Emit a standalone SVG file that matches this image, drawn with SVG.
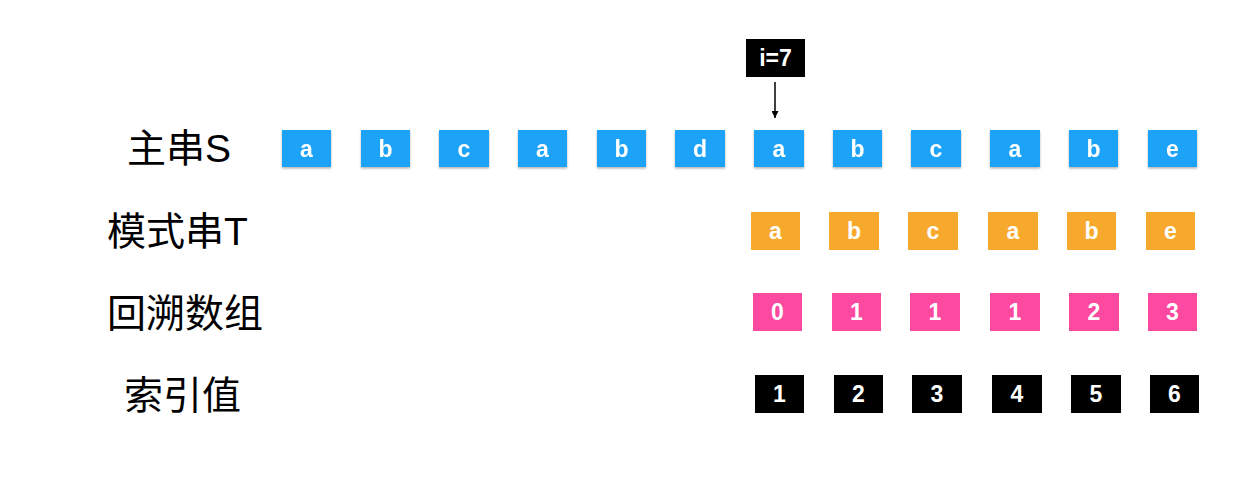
<svg xmlns="http://www.w3.org/2000/svg" width="1238" height="494" viewBox="0 0 1238 494">
<style>
.lbl{font-family:"Liberation Sans","Noto Sans CJK SC",sans-serif;font-size:39px;fill:#000}
.bt{font-family:"Liberation Sans",Arial,sans-serif;font-weight:bold;font-size:23px;fill:#fff;text-anchor:middle}
.blue{fill:#1FA3F7}
.orange{fill:#F7A92E}
.pink{fill:#FD4AA0}
.black{fill:#000}
</style>
<defs>
<filter id="sh" x="-20%" y="-20%" width="140%" height="150%">
<feDropShadow dx="0" dy="1.5" stdDeviation="1.2" flood-color="#000" flood-opacity="0.3"/>
</filter>
<marker id="ah" viewBox="0 0 10 10" refX="10" refY="5" markerWidth="7" markerHeight="7" markerUnits="userSpaceOnUse" orient="auto">
<path d="M0,0 L10,5 L0,10 z" fill="#000"/>
</marker>
</defs>
<rect width="1238" height="494" fill="#fff"/>
<g id="labels">
<text class="lbl" x="127" y="162">主串S</text>
<text class="lbl" x="107" y="245">模式串T</text>
<text class="lbl" x="107" y="327">回溯数组</text>
<text class="lbl" x="124" y="409">索引值</text>
</g>
<g id="mainS" filter="url(#sh)">
<g id="s1"><rect class="blue" x="282" y="130" width="49" height="37"/><text class="bt" x="306.5" y="156.5">a</text></g>
<g id="s2"><rect class="blue" x="361" y="130" width="49" height="37"/><text class="bt" x="385.5" y="156.5">b</text></g>
<g id="s3"><rect class="blue" x="439" y="130" width="50" height="37"/><text class="bt" x="464" y="156.5">c</text></g>
<g id="s4"><rect class="blue" x="518" y="130" width="49" height="37"/><text class="bt" x="542.5" y="156.5">a</text></g>
<g id="s5"><rect class="blue" x="597" y="130" width="49" height="37"/><text class="bt" x="621.5" y="156.5">b</text></g>
<g id="s6"><rect class="blue" x="675" y="130" width="50" height="37"/><text class="bt" x="700" y="156.5">d</text></g>
<g id="s7"><rect class="blue" x="754" y="130" width="50" height="37"/><text class="bt" x="779" y="156.5">a</text></g>
<g id="s8"><rect class="blue" x="833" y="130" width="49" height="37"/><text class="bt" x="857.5" y="156.5">b</text></g>
<g id="s9"><rect class="blue" x="911" y="130" width="50" height="37"/><text class="bt" x="936" y="156.5">c</text></g>
<g id="s10"><rect class="blue" x="990" y="130" width="50" height="37"/><text class="bt" x="1015" y="156.5">a</text></g>
<g id="s11"><rect class="blue" x="1069" y="130" width="49" height="37"/><text class="bt" x="1093.5" y="156.5">b</text></g>
<g id="s12"><rect class="blue" x="1148" y="130" width="49" height="37"/><text class="bt" x="1172.5" y="156.5">e</text></g>
</g>
<g id="patternT">
<g id="t1"><rect class="orange" x="751" y="212" width="49" height="38"/><text class="bt" x="775.5" y="239">a</text></g>
<g id="t2"><rect class="orange" x="829" y="212" width="50" height="38"/><text class="bt" x="854" y="239">b</text></g>
<g id="t3"><rect class="orange" x="908" y="212" width="50" height="38"/><text class="bt" x="933" y="239">c</text></g>
<g id="t4"><rect class="orange" x="988" y="212" width="50" height="38"/><text class="bt" x="1013" y="239">a</text></g>
<g id="t5"><rect class="orange" x="1067" y="212" width="49" height="38"/><text class="bt" x="1091.5" y="239">b</text></g>
<g id="t6"><rect class="orange" x="1146" y="212" width="49" height="38"/><text class="bt" x="1170.5" y="239">e</text></g>
</g>
<g id="backtrack">
<g id="b1"><rect class="pink" x="753" y="293" width="49" height="38"/><text class="bt" x="777.5" y="320">0</text></g>
<g id="b2"><rect class="pink" x="832" y="293" width="49" height="38"/><text class="bt" x="856.5" y="320">1</text></g>
<g id="b3"><rect class="pink" x="910" y="293" width="50" height="38"/><text class="bt" x="935" y="320">1</text></g>
<g id="b4"><rect class="pink" x="990" y="293" width="50" height="38"/><text class="bt" x="1015" y="320">1</text></g>
<g id="b5"><rect class="pink" x="1069" y="293" width="50" height="38"/><text class="bt" x="1094" y="320">2</text></g>
<g id="b6"><rect class="pink" x="1148" y="293" width="49" height="38"/><text class="bt" x="1172.5" y="320">3</text></g>
</g>
<g id="index">
<g id="n1"><rect class="black" x="755" y="375" width="49" height="38"/><text class="bt" x="779.5" y="402">1</text></g>
<g id="n2"><rect class="black" x="834" y="375" width="49" height="38"/><text class="bt" x="858.5" y="402">2</text></g>
<g id="n3"><rect class="black" x="912" y="375" width="50" height="38"/><text class="bt" x="937" y="402">3</text></g>
<g id="n4"><rect class="black" x="992" y="375" width="50" height="38"/><text class="bt" x="1017" y="402">4</text></g>
<g id="n5"><rect class="black" x="1071" y="375" width="50" height="38"/><text class="bt" x="1096" y="402">5</text></g>
<g id="n6"><rect class="black" x="1150" y="375" width="49" height="38"/><text class="bt" x="1174.5" y="402">6</text></g>
</g>
<g id="pointer">
<rect class="black" x="746" y="39" width="59" height="38"/>
<text class="bt" x="775.5" y="66" font-size="24">i=7</text>
</g>
<g id="connectors">
<line x1="775" y1="82" x2="775" y2="118" stroke="#000" stroke-width="1.5" marker-end="url(#ah)"/>
</g>
</svg>
